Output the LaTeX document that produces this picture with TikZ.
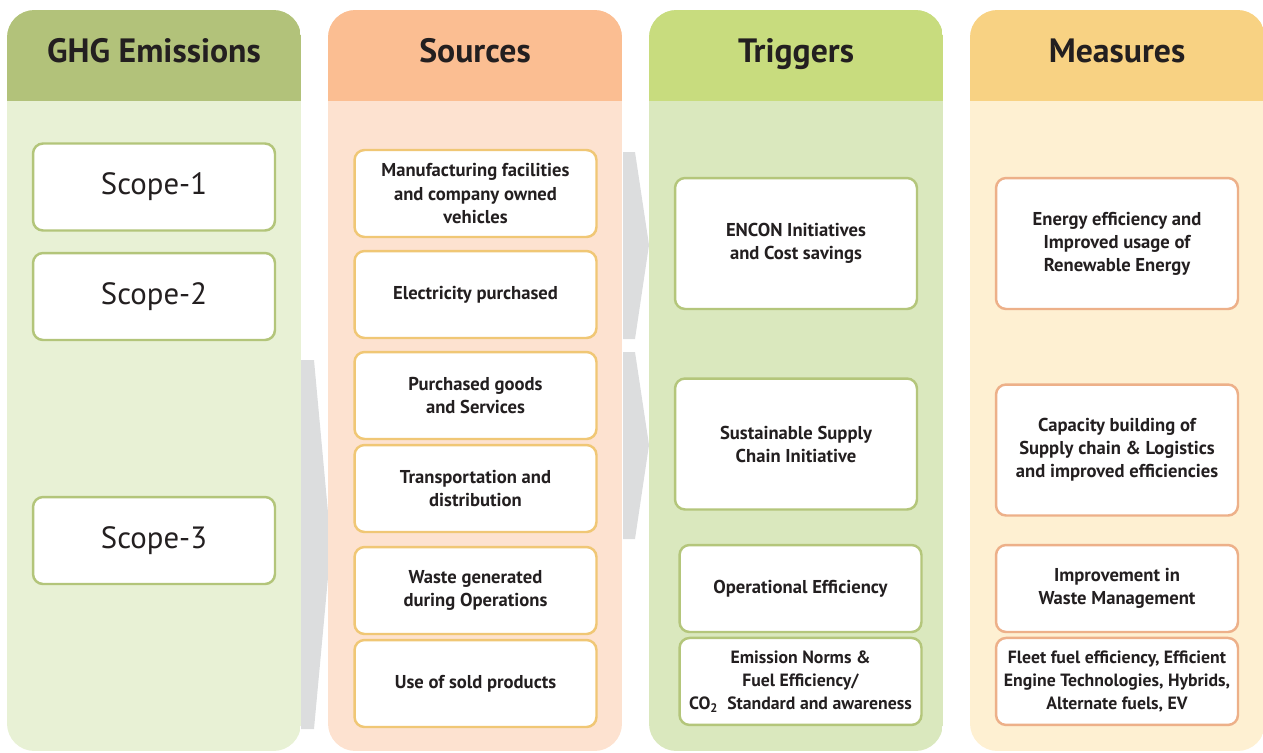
\documentclass[tikz,border=0pt]{standalone}
\usepackage{fontspec}
\setmainfont{PT Sans}
\usepackage{xcolor}
\usetikzlibrary{positioning}
\definecolor{ink}{HTML}{231F20}
\definecolor{hdrA}{HTML}{B2C27A}
\definecolor{bodyA}{HTML}{E8F1D5}
\definecolor{lineA}{HTML}{B3C57A}
\definecolor{hdrB}{HTML}{FBBE92}
\definecolor{bodyB}{HTML}{FDE2D0}
\definecolor{lineB}{HTML}{F0C775}
\definecolor{hdrC}{HTML}{C8DC7E}
\definecolor{bodyC}{HTML}{DAE8BE}
\definecolor{lineC}{HTML}{B4C67B}
\definecolor{hdrD}{HTML}{F8D283}
\definecolor{bodyD}{HTML}{FEF0D2}
\definecolor{lineD}{HTML}{EDB089}
\definecolor{chev}{HTML}{DCDDDE}
\tikzset{%
	title/.style    = {anchor=base, text=ink, font=\bfseries\fontsize{19.2}{22}\selectfont}, % Column title
	card/.style     = {draw, fill=white, line width=1.4pt, rounded corners=0.2cm, inner xsep=0pt, minimum width=4.84cm, minimum height=1.74cm, align=center, text=ink, font=\bfseries\fontsize{10.6}{13.1}\selectfont},
	tallcard/.style = {card, minimum height=2.62cm},
	smalltext/.style= {font=\bfseries\fontsize{10.1}{13.1}\selectfont}, % long lines
	scopebox/.style = {card, draw=lineA, font=\fontsize{17.5}{21}\selectfont}, % Scope
	srcbox/.style   = {card, draw=lineB}, % Source
	trgbox/.style   = {card, draw=lineC}, % Trigger
	msrbox/.style   = {card, draw=lineD}, % Measure
	chevron/.style  = {fill=chev},
}
\begin{document}
\begin{tikzpicture}[x=0.02cm,y=-0.02cm]
		\clip (0,0) rectangle (1263,752);
		% gray arrows
		\fill[chevron] (301,360) -- (314,360) -- (331,545) -- (314,729) -- (301,729) -- cycle;
		\fill[chevron] (623,152) -- (635,152) -- (649,245) -- (635,339) -- (623,339) -- cycle;
		\fill[chevron] (623,352) -- (635,352) -- (649,445) -- (635,539) -- (623,539) -- cycle;
		
		% columns
		\begin{scope}
		\clip[rounded corners=0.55cm] (7,10) rectangle (301,751);
		\fill[bodyA] (7,10) rectangle (301,751);
		\fill[hdrA] (7,10) rectangle (301,101);
		\end{scope}
		\begin{scope}
		\clip[rounded corners=0.55cm] (328,10) rectangle (622,751);
		\fill[bodyB] (328,10) rectangle (622,751);
		\fill[hdrB] (328,10) rectangle (622,101);
		\end{scope}
		\begin{scope}
		\clip[rounded corners=0.55cm] (649,10) rectangle (943,751);
		\fill[bodyC] (649,10) rectangle (943,751);
		\fill[hdrC] (649,10) rectangle (943,101);
		\end{scope}
		\begin{scope}
		\clip[rounded corners=0.55cm] (970,10) rectangle (1265,751);
		\fill[bodyD] (970,10) rectangle (1265,751);
		\fill[hdrD] (970,10) rectangle (1265,101);
		\end{scope}
		
		\node [title] (T1) at (154,62) {GHG Emissions};
		\node [title] (T2) at (475,62) {Sources};
		\node [title] (T3) at (796,62) {Triggers};
		\node [title] (T4) at (1117,62) {Measures};
		
		\node [scopebox] (S1) at (154,187) {Scope-1};
		\node [scopebox] (S2) at (154,296.5) {Scope-2};
		\node [scopebox] (S3) at (154,540.5) {Scope-3};
		
		\node [srcbox] (B1) at (475.5,193.5) {Manufacturing facilities\\and company owned\\vehicles};
		\node [srcbox] (B2) at (475.5,294.5) {Electricity purchased};
		\node [srcbox] (B3) at (475.5,395.5) {Purchased goods\\and Services};
		\node [srcbox] (B4) at (475.5,488.5) {Transportation and\\distribution};
		\node [srcbox] (B5) at (475.5,590.5) {Waste generated\\during Operations};
		\node [srcbox] (B6) at (475.5,683.5) {Use of sold products};
		
		\node [trgbox, tallcard] (G1) at (796,243.5) {ENCON Initiatives\\and Cost savings};
		\node [trgbox, tallcard] (G2) at (796,444) {Sustainable Supply\\Chain Initiative};
		\node [trgbox] (G3) at (800.5,588.5) {Operational Efficiency};
		\node [trgbox, smalltext] (G4) [below=0.07cm of G3] {Emission Norms \&\\Fuel Efficiency/\\CO\textsubscript{2}\ \ Standard and awareness};
		
		\node [msrbox, tallcard] (M1) at (1117,243.5) {Energy efficiency and\\Improved usage of\\Renewable Energy};
		\node [msrbox, tallcard] (M2) at (1117,450) {Capacity building of\\Supply chain \& Logistics\\and improved efficiencies};
		\node [msrbox] (M3) at (1117,588.5) {Improvement in\\Waste Management};
		\node [msrbox, smalltext] (M4) [below=0.07cm of M3] {Fleet fuel efficiency, Efficient\\Engine Technologies, Hybrids,\\Alternate fuels, EV};
		\end{tikzpicture}
\end{document}
